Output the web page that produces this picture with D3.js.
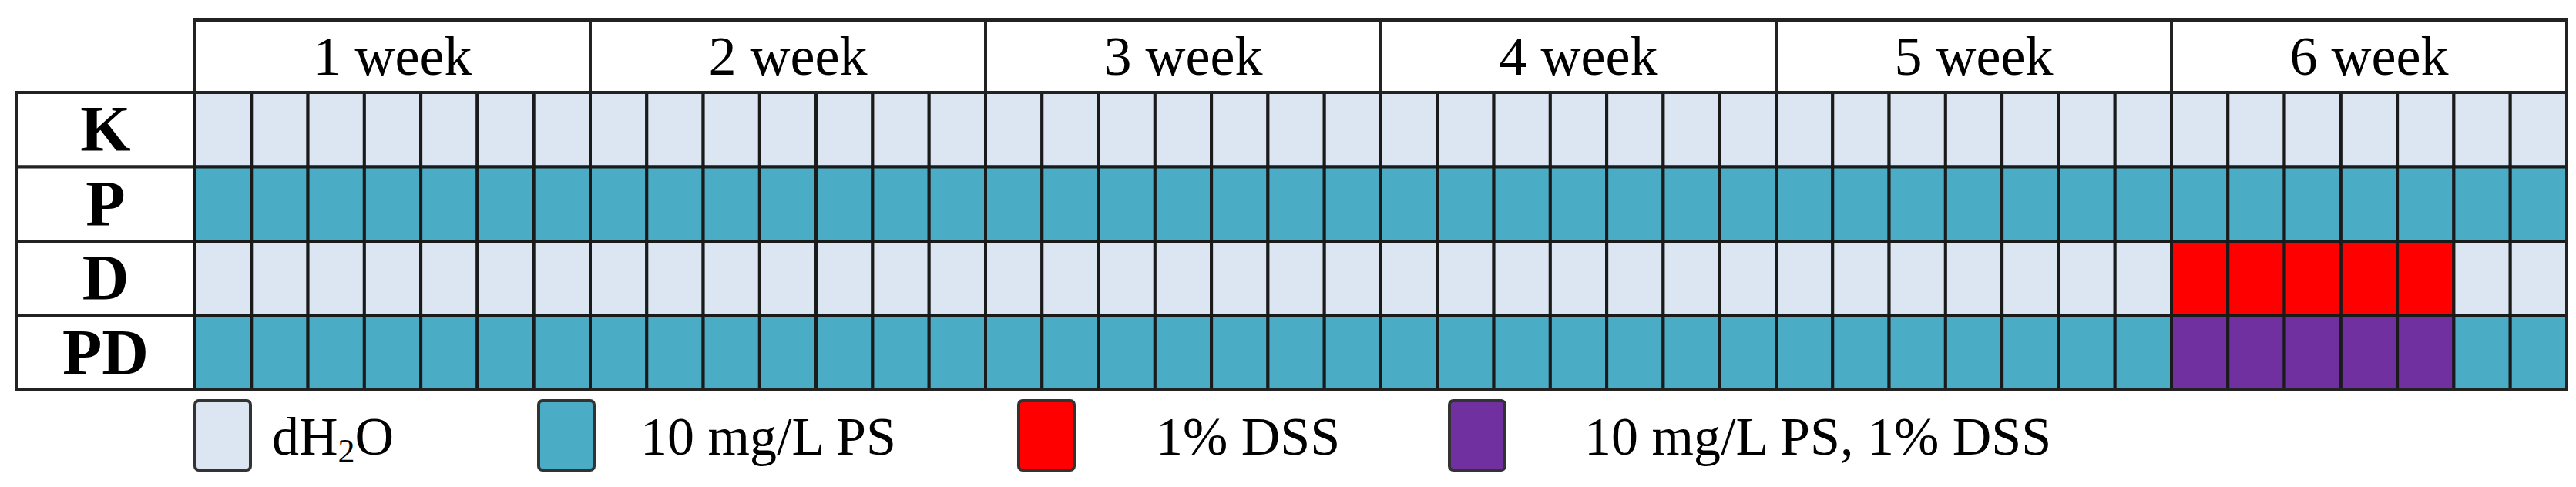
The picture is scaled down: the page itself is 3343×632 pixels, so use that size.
<!DOCTYPE html>
<html><head><meta charset="utf-8">
<script src="https://cdn.jsdelivr.net/npm/d3@7"></script>
<style>body{margin:0;background:#fff}svg{display:block}</style></head>
<body><svg id="c" width="3343" height="632"></svg>
<script>
const weeks = ["1 week","2 week","3 week","4 week","5 week","6 week"];
const groups = ["K","P","D","PD"];
// one code per day (42 days): W=dH2O, P=10 mg/L PS, D=1% DSS, B=PS+DSS
const schedK  = "WWWWWWW WWWWWWW WWWWWWW WWWWWWW WWWWWWW WWWWWWW";
const schedP  = "PPPPPPP PPPPPPP PPPPPPP PPPPPPP PPPPPPP PPPPPPP";
const schedD  = "WWWWWWW WWWWWWW WWWWWWW WWWWWWW WWWWWWW DDDDDWW";
const schedPD = "PPPPPPP PPPPPPP PPPPPPP PPPPPPP PPPPPPP BBBBBPP";
const schedules = [schedK, schedP, schedD, schedPD];
const legendKeys = ["W","P","D","B"];
const legendLabels = ["dH2O","10 mg/L PS","1% DSS","10 mg/L PS, 1% DSS"];
const colors = {W:"#dce6f2",P:"#4bacc6",D:"#ff0000",B:"#7030a0"};

const svg = d3.select("#c");
const L=253,R=3331,labL=21,headT=26,headB=120,gridB=506;
const days = d3.range(42);
const x = d3.scaleBand().domain(days).range([L,R]);
const xw = d3.scaleBand().domain(weeks).range([L,R]);
const y = d3.scaleBand().domain(groups).range([headB,gridB]);
const serif="'Liberation Serif','Times New Roman',serif";

// header
svg.selectAll(".wk").data(weeks).join("rect")
  .attr("x",d=>xw(d)).attr("y",headT).attr("width",xw.bandwidth()).attr("height",headB-headT)
  .attr("fill","#fff").attr("stroke","#222").attr("stroke-width",4);
svg.selectAll(".wkt").data(weeks).join("text")
  .attr("x",d=>xw(d)+xw.bandwidth()/2).attr("y",headT+(headB-headT)/2+24)
  .attr("text-anchor","middle").attr("font-family",serif).attr("font-size",72).text(d=>d);
// row labels
svg.selectAll(".gl").data(groups).join("rect")
  .attr("x",labL).attr("y",d=>y(d)).attr("width",L-labL).attr("height",y.bandwidth())
  .attr("fill","#fff").attr("stroke","#222").attr("stroke-width",4);
svg.selectAll(".glt").data(groups).join("text")
  .attr("x",(labL+L)/2).attr("y",d=>y(d)+y.bandwidth()/2+28)
  .attr("text-anchor","middle").attr("font-family",serif).attr("font-weight","bold").attr("font-size",84).text(d=>d);
// cells
const cells=[];
groups.forEach((g,i)=>{const s=schedules[i].replace(/ /g,"");days.forEach(d=>cells.push({g,d,c:s[d]}));});
svg.selectAll(".cell").data(cells).join("rect")
  .attr("x",d=>x(d.d)).attr("y",d=>y(d.g)).attr("width",x.bandwidth()).attr("height",y.bandwidth())
  .attr("fill",d=>colors[d.c]).attr("stroke","#1a1a1a").attr("stroke-width",4);
svg.append("rect").attr("x",labL).attr("y",headB).attr("width",R-labL).attr("height",gridB-headB)
  .attr("fill","none").attr("stroke","#222").attr("stroke-width",4);
// legend
const lx = d3.scaleOrdinal().domain(legendKeys).range([253,699,1322,1881]);
const lg = svg.selectAll(".lg").data(legendKeys).join("g").attr("transform",d=>`translate(${lx(d)},520)`);
lg.append("rect").attr("width",72).attr("height",90).attr("rx",5)
  .attr("fill",d=>colors[d]).attr("stroke","#333").attr("stroke-width",4);
lg.append("text").attr("x",(d,i)=>[100,132,178,175][i]).attr("y",70)
  .attr("font-family",serif).attr("font-size",70).each(function(d,i){
    const t=d3.select(this);
    if(i===0){t.append("tspan").text("dH");t.append("tspan").attr("font-size",44).attr("dy",10).text("2");t.append("tspan").attr("dy",-10).text("O");}
    else t.text(legendLabels[i]);
  });
</script></body></html>
